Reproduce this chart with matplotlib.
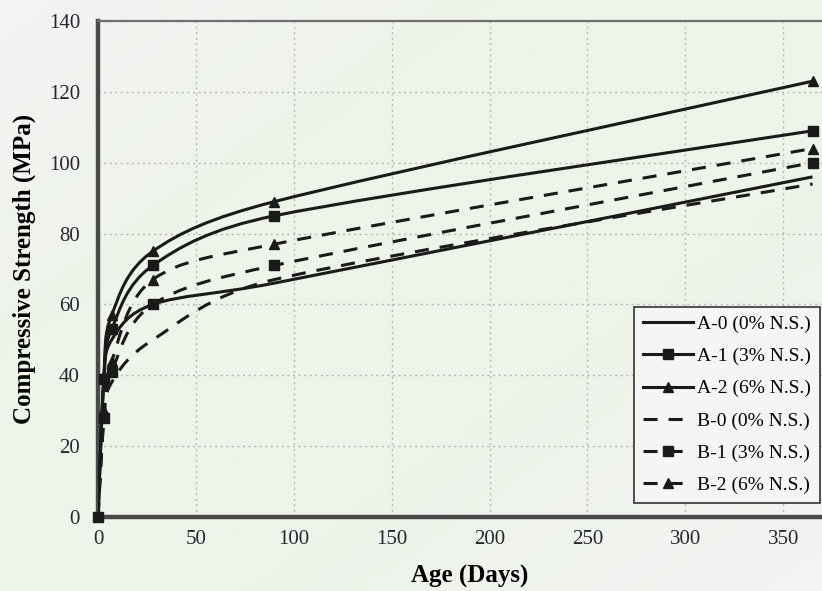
import numpy as np
import matplotlib
matplotlib.use("Agg")
import matplotlib.pyplot as plt
from matplotlib.path import Path
from matplotlib.patches import PathPatch
from matplotlib.lines import Line2D
from matplotlib.colors import LinearSegmentedColormap

# ages (days) and compressive strength (MPa)
age = [0, 3, 7, 28, 90, 365]
a0 = [0, 38, 50, 60, 66, 96]
a1 = [0, 39, 53, 71, 85, 109]
a2 = [0, 40, 57, 75, 89, 123]
b0 = [0, 27, 38, 50, 67, 94]
b1 = [0, 28, 41, 60, 71, 100]
b2 = [0, 30, 44, 67, 77, 104]

series = [
    ("A-0 (0% N.S.)", a0, "-", None),
    ("A-1 (3% N.S.)", a1, "-", "s"),
    ("A-2 (6% N.S.)", a2, "-", "^"),
    ("B-0 (0% N.S.)", b0, "--", None),
    ("B-1 (3% N.S.)", b1, "--", "s"),
    ("B-2 (6% N.S.)", b2, "--", "^"),
]

INK = "#1a1a1a"
LW = 2.2
DASH = (4.6, 3.6)
MS = {"s": 7.5, "^": 7}


def smooth_path(ax, x, y, k=1.0 / 6):
    """Excel style smoothed line: bezier arms computed in screen space,
    clamped to half of the segment length."""
    to_px = ax.transData
    pts = to_px.transform(np.column_stack([x, y]).astype(float))
    n = len(pts)
    verts = [pts[0]]
    codes = [Path.MOVETO]
    for i in range(n - 1):
        p0 = pts[i - 1] if i > 0 else pts[i]
        p1, p2 = pts[i], pts[i + 1]
        p3 = pts[i + 2] if i + 2 < n else pts[i + 1]
        d12 = np.hypot(*(p2 - p1))
        d02 = np.hypot(*(p2 - p0))
        d13 = np.hypot(*(p3 - p1))
        f1 = k if d02 * k < d12 / 2 else d12 / 2 / d02
        f2 = k if d13 * k < d12 / 2 else d12 / 2 / d13
        c1 = p1 + (p2 - p0) * f1
        c2 = p2 - (p3 - p1) * f2
        verts += [c1, c2, p2]
        codes += [Path.CURVE4] * 3
    verts = to_px.inverted().transform(np.array(verts))
    return Path(verts, codes)


plt.rcParams["font.family"] = ["Liberation Serif", "DejaVu Serif"]

fig = plt.figure(figsize=(8.22, 5.91), dpi=100)

# soft diagonal background gradient
bg = fig.add_axes([0, 0, 1, 1], zorder=-10)
gx, gy = np.meshgrid(np.linspace(0, 1, 200), np.linspace(0, 1, 200))
cmap = LinearSegmentedColormap.from_list(
    "bg", [(0, "#f3f3f3"), (0.3, "#eef4ea"), (0.65, "#edf4e9"), (1, "#f3f3f3")]
)
bg.imshow((gx + gy) / 2, cmap=cmap, aspect="auto", extent=[0, 1, 0, 1], origin="upper")
bg.axis("off")

ax = fig.add_axes([0.1192, 0.1252, 0.905, 0.8393])
ax.patch.set_alpha(0)
ax.set_xlim(0, 380)
ax.set_ylim(0, 140)

for label, vals, ls, mk in series:
    patch = PathPatch(smooth_path(ax, age, vals), facecolor="none", edgecolor=INK,
                      lw=LW, zorder=3, capstyle="butt")
    if ls == "--":
        patch.set_linestyle((0, DASH))
    ax.add_patch(patch)
    if mk:
        ax.plot(age[1:], vals[1:], linestyle="none", marker=mk, ms=MS[mk],
                color=INK, zorder=4)

# origin marker
ax.plot(age[:1], a1[:1], linestyle="none", marker="s", ms=MS["s"], color=INK,
        zorder=5, clip_on=False)

ax.set_xticks(range(0, 351, 50))
ax.set_yticks(range(0, 141, 20))
ax.tick_params(length=0, labelsize=15, colors="#262633")
ax.tick_params(axis="y", pad=13)
ax.tick_params(axis="x", pad=9)
ax.grid(True, linestyle=(0, (1.5, 2.5)), color="#b8b8b8", lw=1.0)
ax.set_axisbelow(True)

ax.spines["left"].set_linewidth(3.2)
ax.spines["left"].set_color("#4a4a4a")
ax.spines["bottom"].set_linewidth(3.2)
ax.spines["bottom"].set_color("#4a4a4a")
ax.spines["top"].set_linewidth(1.6)
ax.spines["top"].set_color("#707070")
ax.spines["right"].set_visible(False)

ax.set_ylabel("Compressive Strength (MPa)", fontsize=18, fontweight="bold", labelpad=9)
ax.set_xlabel("Age (Days)", fontsize=18, fontweight="bold", labelpad=12)

handles = []
for label, vals, ls, mk in series:
    h = Line2D([], [], color=INK, lw=LW, marker=mk, ms=MS.get(mk, 0),
               linestyle=(0, DASH) if ls == "--" else "-")
    handles.append(h)

leg = ax.legend(handles, [s_[0] for s_ in series], loc="lower right",
                bbox_to_anchor=(820 / 822, 88 / 591), bbox_transform=fig.transFigure,
                fontsize=14, frameon=True, fancybox=False, edgecolor="#333333",
                facecolor="#f5f5f5", framealpha=1, handlelength=2.6,
                handletextpad=0.2, labelspacing=0.75, borderpad=0.45,
                borderaxespad=0.0)
leg.get_frame().set_linewidth(1.2)

fig.savefig("out.png", dpi=100)
